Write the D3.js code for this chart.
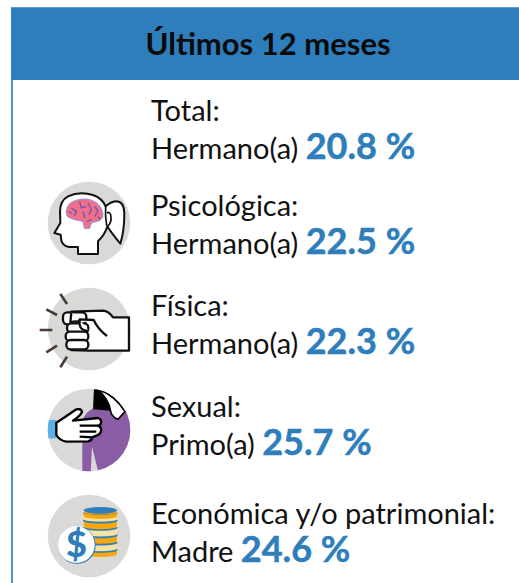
<!DOCTYPE html>
<html>
<head>
<meta charset="utf-8">
<script src="https://cdn.jsdelivr.net/npm/d3@7"></script>
<style>
body { margin: 0; background: #fff; }
svg { display: block; }
text { font-family: Lato, "Open Sans", sans-serif; }
</style>
</head>
<body>
<div id="vizArea"></div>
<script>
var w = 519
var h = 583

// DATA ********************************
var title = "Últimos 12 meses"
var categories = ["Total:", "Psicológica:", "Física:", "Sexual:", "Económica y/o patrimonial:"]
var relatives = ["Hermano(a)", "Hermano(a)", "Hermano(a)", "Primo(a)", "Madre"]
var values = [20.8, 22.5, 22.3, 25.7, 24.6]

var blue = "#2e7ebc"

// rows are not evenly spaced in the picture
var rowY = d3.scaleOrdinal().domain(categories).range([121, 216, 316, 417, 524])
var iconY = d3.scaleOrdinal().domain(categories).range([0, 223, 329, 430, 536])

var svg = d3.select("#vizArea").append("svg")
    .attr("width", w)
    .attr("height", h)

// HEADER ********************************
svg.append("rect").attr("x", 11).attr("y", 80).attr("width", 2).attr("height", h - 80).attr("fill", "#4f93c9")
svg.append("rect").attr("x", 11).attr("y", 7).attr("width", w - 11).attr("height", 73)
    .attr("fill", blue)
svg.append("rect").attr("x", 11).attr("y", 7).attr("width", w - 11).attr("height", 1).attr("fill", "#5b9bcf")
svg.append("text").attr("x", 268).attr("y", 55)
    .attr("text-anchor", "middle")
    .attr("font-size", 31).attr("font-weight", 700).attr("fill", "#0a0a0a")
    .text(title)

// ROWS ********************************
var rows = svg.selectAll("g.row").data(categories).enter().append("g").attr("class", "row")

rows.append("text")
    .attr("x", 151)
    .attr("y", function(d) { return rowY(d) })
    .attr("font-size", 29).attr("fill", "#111")
    .text(function(d) { return d })

var second = rows.append("text")
    .attr("x", 151)
    .attr("y", function(d) { return rowY(d) + 38 })
    .attr("font-size", 29).attr("fill", "#111")

second.append("tspan").text(function(d, i) { return relatives[i] + " " })
second.append("tspan")
    .attr("font-size", 36).attr("font-weight", 700).attr("fill", blue)
    .attr("stroke", blue).attr("stroke-width", 0.5)
    .text(function(d, i) { return values[i].toFixed(1) + " %" })

// ICONS ********************************
// the path data below is in 3x crop pixels around the circle centre
var defs = svg.append("defs")
defs.append("clipPath").attr("id", "discShift")
    .append("circle").attr("cx", 178).attr("cy", 150).attr("r", 124)

function iconGroup(i, ox, oy) {
    var g = svg.append("g")
        .attr("transform", "translate(89," + iconY(categories[i]) + ") scale(0.3333)")
    g.append("circle").attr("r", 124).attr("fill", "#d9d9d8")
    return g.append("g").attr("transform", "translate(" + (-ox) + "," + (-oy) + ")")
}

function drawBrain(g) {
    g.append("path")
        .attr("d", "M205,253 L145,253 L145,232 L118,232 Q98,228 95,212 L93,195 L74,190 L92,160 L91,125 Q92,92 115,80 Q150,64 190,76 Q218,86 228,110 Q245,95 262,95 Q283,97 284,130 Q284,185 272,222 Q245,190 233,170 Q226,195 205,215 Z")
        .attr("fill", "#fff").attr("stroke", "#111").attr("stroke-width", 6).attr("stroke-linejoin", "round")
    g.append("path")
        .attr("d", "M228,110 Q226,140 231,168 M233,170 Q248,160 243,135 Q238,125 232,130")
        .attr("fill", "none").attr("stroke", "#111").attr("stroke-width", 5)
    g.append("path")
        .attr("d", "M110,125 Q112,100 140,92 Q175,82 200,100 Q222,118 219,142 Q212,156 186,158 L179,176 L165,176 L160,155 Q130,150 116,142 Q109,135 110,125 Z")
        .attr("fill", "#f0708a").attr("stroke", "#a98ad0").attr("stroke-width", 4)
    g.append("path")
        .attr("d", "M125,115 L140,125 L135,138 M150,95 L155,115 L170,110 M175,100 L185,118 L178,135 M160,125 L165,145 M195,110 L205,125 L195,140 M205,140 L212,150 M125,132 L118,125 M185,150 L172,155")
        .attr("fill", "none").attr("stroke", "#6d55b0").attr("stroke-width", 4)
}

function drawFist(g) {
    var rays = d3.path()
    rays.moveTo(92, 42); rays.lineTo(112, 72)
    rays.moveTo(50, 88); rays.lineTo(82, 105)
    rays.moveTo(30, 150); rays.lineTo(68, 150)
    rays.moveTo(50, 217); rays.lineTo(82, 197)
    rays.moveTo(92, 262); rays.lineTo(112, 230)
    g.append("path").attr("d", rays.toString())
        .attr("stroke", "#4a3b36").attr("stroke-width", 8).attr("fill", "none")
    // back of the hand and wrist
    g.append("path")
        .attr("d", "M298,112 L250,112 Q235,92 220,92 L125,95 L125,210 L180,212 L298,212 Z")
        .attr("fill", "#fff").attr("stroke", "#111").attr("stroke-width", 7).attr("stroke-linejoin", "round")
    // fingers, top to bottom
    var fingers = [[100, 97, 70, 36], [112, 130, 64, 28], [108, 155, 68, 28], [110, 180, 66, 28]]
    fingers.forEach(function(f) {
        g.append("rect")
            .attr("x", f[0]).attr("y", f[1]).attr("width", f[2]).attr("height", f[3]).attr("rx", 13)
            .attr("fill", "#fff").attr("stroke", "#111").attr("stroke-width", 7)
    })
    // thumb
    g.append("path")
        .attr("d", "M125,97 L122,128 Q135,122 148,125 L150,118 L192,120 Q205,148 232,168 M150,120 Q146,148 168,152 L178,152")
        .attr("fill", "#fff").attr("stroke", "#111").attr("stroke-width", 7).attr("stroke-linejoin", "round")
}

function drawHand(g) {
    var inner = g.append("g").attr("clip-path", "url(#discShift)")
    inner.append("path")
        .attr("d", "M158,280 L158,125 Q165,95 192,85 L300,95 L310,280 Z M187,200 L183,280 L207,280 Z")
        .attr("fill", "#8a5ca3").attr("fill-rule", "evenodd")
    inner.append("path")
        .attr("d", "M193,24 L240,28 L245,92 L190,88 Z").attr("fill", "#000")
    inner.append("path")
        .attr("d", "M205,28 Q255,45 286,95 L265,118 Q245,110 242,90 Q238,60 205,28 Z")
        .attr("fill", "#fff").attr("stroke", "#000").attr("stroke-width", 5)
    inner.append("rect").attr("x", 50).attr("y", 120).attr("width", 30).attr("height", 55).attr("fill", "#5bb0e8")
    inner.append("path")
        .attr("d", "M80,128 L105,112 L140,88 Q155,85 157,95 Q155,105 130,122 L205,114 Q216,118 214,128 Q212,136 205,137 Q217,142 214,154 Q210,165 200,167 Q192,170 188,172 Q186,183 175,184 L110,185 Q90,182 80,165 Z")
        .attr("fill", "#fff").attr("stroke", "#000").attr("stroke-width", 7).attr("stroke-linejoin", "round")
    inner.append("path")
        .attr("d", "M150,137 L205,137 M150,155 L200,155 M150,170 L188,172")
        .attr("stroke", "#000").attr("stroke-width", 7).attr("fill", "none")
}

function drawCoins(g) {
    // stack of coins, bottom one first
    d3.range(6).forEach(function(k) {
        var y = 200 - k * 22
        g.append("path")
            .attr("d", "M162," + y + " L162," + (y + 15) + " A50,8 0 0 0 262," + (y + 15) + " L262," + y + " Z")
            .attr("fill", k % 2 ? "#f6e3a1" : "#f9a60a")
        g.append("ellipse").attr("cx", 212).attr("cy", y).attr("rx", 50).attr("ry", 8)
            .attr("fill", k % 2 ? "#f9a60a" : "#f6e3a1")
        g.append("path")
            .attr("d", "M162," + y + " A50,8 0 0 0 262," + y)
            .attr("fill", "none").attr("stroke", blue).attr("stroke-width", 5)
    })
    g.append("ellipse").attr("cx", 212).attr("cy", 83).attr("rx", 50).attr("ry", 10).attr("fill", blue)
    g.append("path").attr("d", "M162,88 L162,100 A50,9 0 0 0 262,100 L262,88 A50,9 0 0 1 162,88 Z").attr("fill", "#f9a60a")
    g.append("circle").attr("cx", 142).attr("cy", 188).attr("r", 56).attr("fill", blue)
    g.append("circle").attr("cx", 140).attr("cy", 186).attr("r", 55).attr("fill", "#fff")
    g.append("text").attr("x", 140).attr("y", 224)
        .attr("text-anchor", "middle")
        .attr("font-size", 108).attr("font-weight", 900).attr("fill", blue)
        .text("$")
}

drawBrain(iconGroup(1, 178, 160))
drawFist(iconGroup(2, 178, 147))
drawHand(iconGroup(3, 178, 150))
drawCoins(iconGroup(4, 178, 160))
</script>
</body>
</html>
